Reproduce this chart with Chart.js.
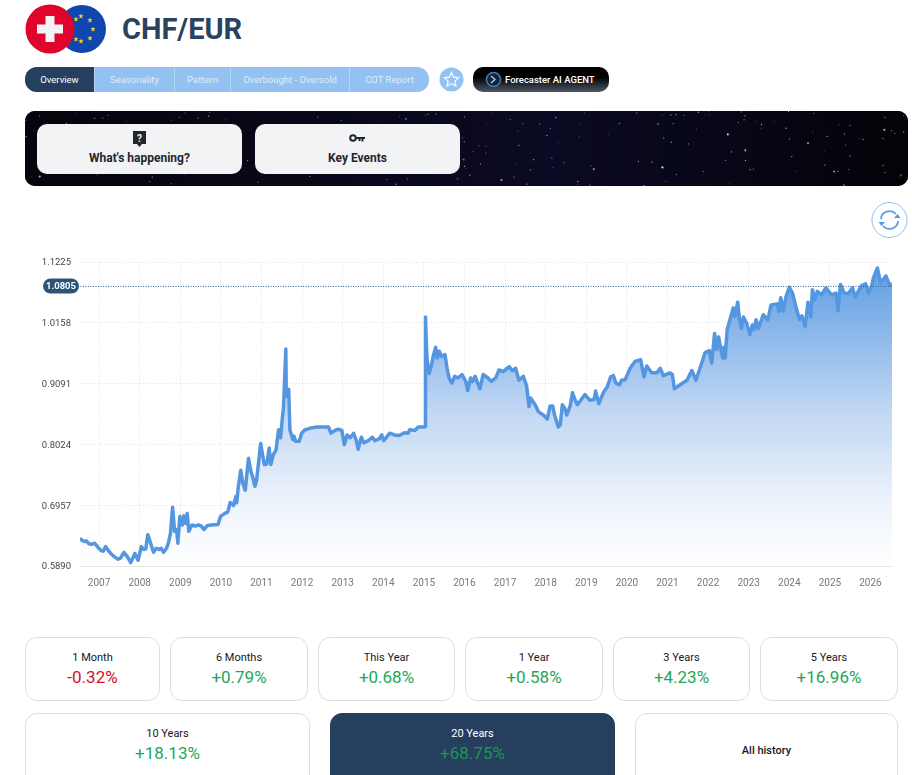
<!DOCTYPE html>
<html>
<head>
<meta charset="utf-8">
<title>CHF/EUR</title>
<script src="https://cdn.jsdelivr.net/npm/chart.js@4"></script>
<style>
  html, body { margin: 0; padding: 0; background: #fff; }
  body { width: 912px; height: 775px; overflow: hidden; position: relative; font-family: Roboto, sans-serif; }
  .abs { position: absolute; }
  .title { left: 122px; top: 10px; font-size: 29px; line-height: 38px; font-weight: 700; color: #2a4160; }
  .tabs { left: 25px; top: 67px; width: 404px; height: 25px; border-radius: 12px; overflow: hidden; background: #93c1f2; }
  .tab { position: absolute; top: 0; height: 25px; line-height: 25px; text-align: center; font-size: 9.5px; color: #dfedfb; border-left: 1px solid #b5d5f6; box-sizing: border-box; }
  .tab.on { background: #263f5f; color: #fff; border-left: 0; }
  .agent { left: 473px; top: 67px; width: 136px; height: 25px; border-radius: 10px; background: linear-gradient(#000 40%, #4c5866); color: #fff; font-size: 9.5px; font-weight: 500; line-height: 25px; text-align: left; text-indent: 32px; }
  .banner { left: 25px; top: 111px; width: 883px; height: 75px; border-radius: 10px; overflow: hidden; background: #04040c; }
  .card { top: 124px; height: 50px; width: 205px; border-radius: 10px; background: #f2f3f5; text-align: center; font-size: 12px; font-weight: 700; color: #23262f; box-sizing: border-box; padding-top: 27px; line-height: 14px; }
  .stat { box-sizing: border-box; border: 1px solid #dcdce2; border-radius: 12px; background: #fff; text-align: center; }
  .stat b { position: absolute; left: 0; right: 0; top: 13px; font-size: 11px; line-height: 13px; font-weight: 400; color: #16181d; }
  .stat i { position: absolute; left: 0; right: 0; top: 29px; font-size: 17px; line-height: 20px; font-style: normal; font-weight: 400; }
  .up { color: #1fa65a; } .down { color: #d4112f; }
  .stat.on { background: #263f5f; border-color: #263f5f; }
  .stat.on b { color: #fff; } .stat.on i { color: #159a4f; }
  #chartBox { left: 0; top: 240px; width: 912px; height: 360px; }
</style>
</head>
<body>
<svg class="abs" style="left:20px;top:0" width="92" height="58" viewBox="0 0 92 58">
  <defs><path id="st" d="M0-2.600l.7 1.800 1.900.1-1.500 1.200.5 1.900-1.600-1-1.600 1 .5-1.900-1.500-1.200 1.900-.1z" fill="#f5d327"/></defs>
  <circle cx="62" cy="29" r="24" fill="#0f47af"/>
  <use href="#st" x="61" y="16"/><use href="#st" x="70" y="20"/><use href="#st" x="73" y="29"/><use href="#st" x="70" y="38"/><use href="#st" x="61" y="41"/><use href="#st" x="56" y="19"/><use href="#st" x="56" y="39"/>
  <circle cx="30" cy="29" r="24.5" fill="#e0042d"/>
  <path d="M25.500 16h9v8.500h8.500v9h-8.500v8.500h-9v-8.500h-8.500v-9h8.500z" fill="#f3f3f3"/>
</svg>
<div class="abs title">CHF/EUR</div>

<div class="abs tabs">
  <div class="tab on" style="left:0;width:69px">Overview</div>
  <div class="tab" style="left:69px;width:80px">Seasonality</div>
  <div class="tab" style="left:149px;width:56px">Pattern</div>
  <div class="tab" style="left:205px;width:119px">Overbought - Oversold</div>
  <div class="tab" style="left:324px;width:80px">COT Report</div>
</div>
<svg class="abs" style="left:439px;top:67px" width="25" height="25" viewBox="0 0 25 25">
  <circle cx="12.5" cy="12.5" r="12" fill="#93c1f2"/>
  <path d="M12.5 5.5l2.1 4.6 5 .6-3.7 3.4 1 5-4.4-2.5-4.4 2.5 1-5-3.7-3.4 5-.6z" fill="none" stroke="#fff" stroke-width="1.2"/>
</svg>
<div class="abs agent">Forecaster AI AGENT</div>
<svg class="abs" style="left:485px;top:71px" width="17" height="17" viewBox="0 0 17 17">
  <circle cx="8.5" cy="8.5" r="7" fill="#14233a" stroke="#3f7fb8" stroke-width="1.5"/>
  <path d="M6 5l4 3.5-4 3.5" fill="none" stroke="#bcd7f0" stroke-width="1.2"/>
</svg>

<div class="abs banner"><canvas id="stars" width="883" height="75"></canvas></div>
<div class="abs card" style="left:37px">What's happening?</div>
<div class="abs card" style="left:255px">Key Events</div>
<svg class="abs" style="left:132px;top:131px" width="15" height="17" viewBox="0 0 15 17">
  <path d="M1 0h13v13h-4l-2.5 3-2.5-3h-4z" fill="#23262f"/>
  <text x="7.5" y="10.5" font-size="10" font-weight="700" fill="#f2f3f5" text-anchor="middle" font-family="Roboto">?</text>
</svg>
<svg class="abs" style="left:349px;top:134px" width="17" height="9" viewBox="0 0 17 9">
  <circle cx="4" cy="4" r="2.8" fill="none" stroke="#23262f" stroke-width="2"/>
  <path d="M7 3h9v2h-1.500v2.500h-2v-2.500h-1v2h-2v-2h-2.500z" fill="#23262f"/>
</svg>

<svg class="abs" style="left:871px;top:202px" width="37" height="37" viewBox="0 0 37 37">
  <circle cx="18.500" cy="18" r="17.500" fill="#fff" stroke="#93c1f2" stroke-width="1"/>
  <path d="M10 17a8.500 8 0 0 1 15-5M27 19a8.500 8 0 0 1-15 5" fill="none" stroke="#5a9fe4" stroke-width="1.800"/>
  <path d="M23 16l6.500 0-3-4zM14 20l-6.500 0 3 4z" fill="#4f97e0"/>
</svg>

<div class="abs" id="chartBox"><canvas id="chart" width="912" height="360"></canvas></div>

<div class="abs stat" style="left:25px;top:637px;width:135px;height:64px"><b>1 Month</b><i class="down">-0.32%</i></div>
<div class="abs stat" style="left:170px;top:637px;width:138px;height:64px"><b>6 Months</b><i class="up">+0.79%</i></div>
<div class="abs stat" style="left:318px;top:637px;width:137px;height:64px"><b>This Year</b><i class="up">+0.68%</i></div>
<div class="abs stat" style="left:465px;top:637px;width:138px;height:64px"><b>1 Year</b><i class="up">+0.58%</i></div>
<div class="abs stat" style="left:613px;top:637px;width:137px;height:64px"><b>3 Years</b><i class="up">+4.23%</i></div>
<div class="abs stat" style="left:760px;top:637px;width:138px;height:64px"><b>5 Years</b><i class="up">+16.96%</i></div>
<div class="abs stat" style="left:25px;top:713px;width:285px;height:80px"><b>10 Years</b><i class="up">+18.13%</i></div>
<div class="abs stat on" style="left:330px;top:713px;width:285px;height:80px"><b>20 Years</b><i>+68.75%</i></div>
<div class="abs stat" style="left:635px;top:713px;width:263px;height:80px"><b style="top:30px;font-weight:500">All history</b></div>

<script>
// Lata jako liczby dziesiętne
const years = [
  2006.53, 2006.58, 2006.64, 2006.69, 2006.75, 2006.81, 2006.89, 2006.97, 2007.05, 2007.10,
  2007.16, 2007.24, 2007.30, 2007.38, 2007.47, 2007.53, 2007.61, 2007.70, 2007.78, 2007.88,
  2007.96, 2008.04, 2008.10, 2008.15, 2008.20, 2008.27, 2008.34, 2008.41, 2008.48, 2008.53,
  2008.59, 2008.66, 2008.71, 2008.76, 2008.81, 2008.86, 2008.91, 2008.94, 2008.99, 2009.05,
  2009.09, 2009.13, 2009.17, 2009.21, 2009.29, 2009.37, 2009.45, 2009.52, 2009.58, 2009.67,
  2009.76, 2009.93, 2009.99, 2010.09, 2010.17, 2010.23, 2010.31, 2010.37, 2010.39, 2010.43,
  2010.49, 2010.54, 2010.60, 2010.68, 2010.74, 2010.78, 2010.84, 2010.88, 2010.98, 2011.02,
  2011.07, 2011.13, 2011.19, 2011.23, 2011.29, 2011.36, 2011.42, 2011.47, 2011.51, 2011.54,
  2011.56, 2011.60, 2011.61, 2011.67, 2011.70, 2011.77, 2011.80, 2011.84, 2011.93, 2011.99,
  2012.07, 2012.20, 2012.36, 2012.65, 2012.71, 2012.81, 2012.89, 2012.98, 2013.04, 2013.11,
  2013.18, 2013.27, 2013.34, 2013.38, 2013.46, 2013.52, 2013.63, 2013.73, 2013.79, 2013.90,
  2013.96, 2014.01, 2014.16, 2014.28, 2014.39, 2014.53, 2014.61, 2014.65, 2014.78, 2014.86,
  2015.01, 2015.03, 2015.04, 2015.06, 2015.08, 2015.13, 2015.19, 2015.23, 2015.29, 2015.33,
  2015.38, 2015.43, 2015.52, 2015.57, 2015.62, 2015.69, 2015.76, 2015.84, 2015.94, 2016.03,
  2016.08, 2016.15, 2016.20, 2016.26, 2016.38, 2016.46, 2016.58, 2016.66, 2016.77, 2016.85,
  2016.95, 2017.10, 2017.18, 2017.26, 2017.34, 2017.45, 2017.53, 2017.59, 2017.63, 2017.74,
  2017.82, 2017.94, 2018.04, 2018.11, 2018.17, 2018.22, 2018.31, 2018.36, 2018.41, 2018.48,
  2018.52, 2018.60, 2018.66, 2018.72, 2018.78, 2018.97, 2019.08, 2019.19, 2019.23, 2019.31,
  2019.42, 2019.52, 2019.60, 2019.67, 2019.73, 2019.82, 2019.87, 2019.96, 2020.08, 2020.20,
  2020.34, 2020.42, 2020.49, 2020.61, 2020.74, 2020.82, 2020.90, 2021.06, 2021.12, 2021.17,
  2021.31, 2021.48, 2021.60, 2021.70, 2021.87, 2021.92, 2022.03, 2022.09, 2022.16, 2022.21,
  2022.26, 2022.31, 2022.36, 2022.39, 2022.42, 2022.47, 2022.56, 2022.62, 2022.66, 2022.73,
  2022.77, 2022.82, 2022.87, 2022.95, 2023.03, 2023.09, 2023.14, 2023.18, 2023.24, 2023.36,
  2023.47, 2023.55, 2023.70, 2023.75, 2023.79, 2023.85, 2023.92, 2024.00, 2024.08, 2024.18,
  2024.25, 2024.31, 2024.39, 2024.46, 2024.53, 2024.57, 2024.63, 2024.69, 2024.80, 2024.90,
  2025.04, 2025.15, 2025.20, 2025.26, 2025.35, 2025.45, 2025.56, 2025.62, 2025.78, 2025.88,
  2025.95, 2026.03, 2026.07, 2026.17, 2026.25, 2026.38, 2026.46, 2026.53
];
const rates = [
  .638, .634, .632, .633, .628, .627, .629, .622, .616, .615,
  .623, .615, .610, .605, .601, .603, .613, .605, .595, .611,
  .599, .623, .618, .619, .644, .629, .613, .620, .618, .620,
  .613, .620, .630, .647, .692, .650, .653, .629, .676, .661,
  .677, .664, .681, .650, .661, .659, .661, .659, .653, .660,
  .661, .662, .676, .681, .684, .7005, .695, .711, .700, .729,
  .757, .734, .722, .778, .755, .746, .729, .740, .804, .787,
  .767, .768, .796, .767, .784, .793, .828, .814, .846, .866,
  .898, .970, .887, .899, .828, .811, .817, .808, .808, .822,
  .828, .831, .833, .833, .822, .827, .829, .827, .802, .819,
  .814, .822, .808, .794, .815, .805, .809, .815, .809, .812,
  .819, .809, .822, .819, .818, .823, .822, .828, .827, .833,
  .833, .834, 1.026, .980, .951, .927, .942, .957, .973, .954,
  .966, .957, .960, .936, .919, .910, .922, .919, .925, .913,
  .897, .919, .913, .922, .900, .925, .919, .913, .919, .933,
  .930, .939, .932, .936, .915, .922, .905, .869, .884, .872,
  .860, .854, .847, .870, .870, .854, .833, .837, .872, .864,
  .854, .869, .893, .881, .872, .890, .880, .881, .896, .874,
  .893, .904, .921, .923, .910, .907, .915, .916, .936, .948,
  .951, .921, .940, .928, .928, .936, .923, .928, .925, .900,
  .907, .915, .932, .915, .951, .963, .967, .945, .997, .969,
  .991, .971, .954, .973, .954, 1.004, 1.027, 1.042, 1.027, 1.052,
  1.024, 1.006, 1.026, 1.015, .995, 1.012, 1.004, 1.021, 1.006, 1.030,
  1.021, 1.047, 1.049, 1.036, 1.060, 1.036, 1.062, 1.078, 1.068, 1.039,
  1.022, 1.028, 1.009, 1.052, 1.026, 1.074, 1.056, 1.071, 1.065, 1.077,
  1.065, 1.068, 1.037, 1.083, 1.068, 1.067, 1.077, 1.061, 1.081, 1.084,
  1.068, 1.080, 1.094, 1.112, 1.086, 1.098, 1.084, 1.0835
];
const yearTicks = [2007, 2008, 2009, 2010, 2011, 2012, 2013, 2014, 2015, 2016, 2017, 2018, 2019, 2020, 2021, 2022, 2023, 2024, 2025, 2026];
const rateTicks = [0.5890, 0.6957, 0.8024, 0.9091, 1.0158, 1.1225];
const lastRate = 1.0805;

// Przerywana linia ostatniego kursu z etykietą
const lastRatePlugin = {
  id: 'lastRate',
  afterDatasetsDraw(chart) {
    const { ctx, chartArea, scales } = chart;
    const y = scales.y.getPixelForValue(lastRate);
    ctx.save();
    ctx.strokeStyle = '#2f5f8f';
    ctx.lineWidth = 1;
    ctx.setLineDash([1, 1.5]);
    ctx.beginPath();
    ctx.moveTo(chartArea.left - 2, y + 0.5);
    ctx.lineTo(chartArea.right, y + 0.5);
    ctx.stroke();
    ctx.setLineDash([]);
    ctx.fillStyle = '#2c5378';
    ctx.beginPath();
    ctx.roundRect(43, y - 7.5, 36, 15, 7.5);
    ctx.fill();
    ctx.fillStyle = '#fff';
    ctx.font = '700 9.5px Roboto';
    ctx.textAlign = 'center';
    ctx.textBaseline = 'middle';
    ctx.fillText(lastRate.toFixed(4), 61, y + 0.5);
    ctx.restore();
  }
};

function areaGradient(context) {
  const { ctx, chartArea } = context.chart;
  if (!chartArea) return 'transparent';
  const g = ctx.createLinearGradient(0, chartArea.top, 0, chartArea.bottom);
  g.addColorStop(0, '#5c9be3');
  g.addColorStop(0.5, '#c2d8f4');
  g.addColorStop(0.8, '#eef4fc');
  g.addColorStop(1, '#ffffff');
  return g;
}

new Chart(document.getElementById('chart').getContext('2d'), {
  type: 'line',
  data: {
    datasets: [{
      data: years.map((y, i) => ({ x: y, y: rates[i] })),
      borderColor: '#5596e0',
      borderWidth: 3.5,
      borderJoinStyle: 'round',
      pointRadius: 0,
      tension: 0,
      fill: true,
      backgroundColor: areaGradient
    }]
  },
  options: {
    responsive: false,
    animation: false,
    layout: { padding: { top: 22, right: 20, bottom: 0, left: 0 } },
    plugins: { legend: { display: false }, tooltip: { enabled: false } },
    scales: {
      x: {
        type: 'linear',
        min: 2006.53,
        max: 2026.53,
        afterBuildTicks: (axis) => { axis.ticks = yearTicks.map(v => ({ value: v })); },
        afterFit: (axis) => { axis.height = 34; },
        ticks: {
          autoSkip: false,
          maxRotation: 0,
          padding: 11,
          color: '#77797f',
          font: { family: 'Roboto', size: 10 },
          callback: (v) => String(v)
        },
        grid: { color: '#e2e2e2', lineWidth: 1, tickLength: 0, drawTicks: false },
        border: { color: '#e4e4e4', width: 1, dash: [1, 2] }
      },
      y: {
        min: 0.5890,
        max: 1.1225,
        afterBuildTicks: (axis) => { axis.ticks = rateTicks.map(v => ({ value: v })); },
        afterFit: (axis) => { axis.width = 80; },
        ticks: {
          padding: 9,
          labelOffset: 1,
          color: '#44464c',
          font: { family: 'Roboto', size: 9.5 },
          callback: (v) => v.toFixed(4)
        },
        grid: { color: '#e2e2e2', lineWidth: 1, drawTicks: false },
        border: { display: false, dash: [1, 2] }
      }
    }
  },
  plugins: [lastRatePlugin]
});

// Gwiazdy na ciemnym pasku: układ deterministyczny
const sc = document.getElementById('stars').getContext('2d');
const bg = sc.createLinearGradient(0, 0, 883, 0);
bg.addColorStop(0, '#05050d');
bg.addColorStop(0.6, '#0b0a24');
bg.addColorStop(1, '#030308');
sc.fillStyle = bg;
sc.fillRect(0, 0, 883, 75);
const fract = (v) => v - Math.floor(v);
for (let i = 1; i < 240; i++) {
  const sx = fract(Math.sin(i * 12.9898) * 43758.5453) * 883;
  const sy = fract(Math.sin(i * 78.233) * 43758.5453) * 75;
  const a = 0.2 + fract(Math.sin(i * 37.719) * 43758.5453) * 0.7;
  const r = i % 9 === 0 ? 1.1 : 0.6;
  sc.fillStyle = 'rgba(225,228,245,' + a.toFixed(2) + ')';
  sc.beginPath();
  sc.arc(sx, sy, r, 0, Math.PI * 2);
  sc.fill();
}
</script>
</body>
</html>
